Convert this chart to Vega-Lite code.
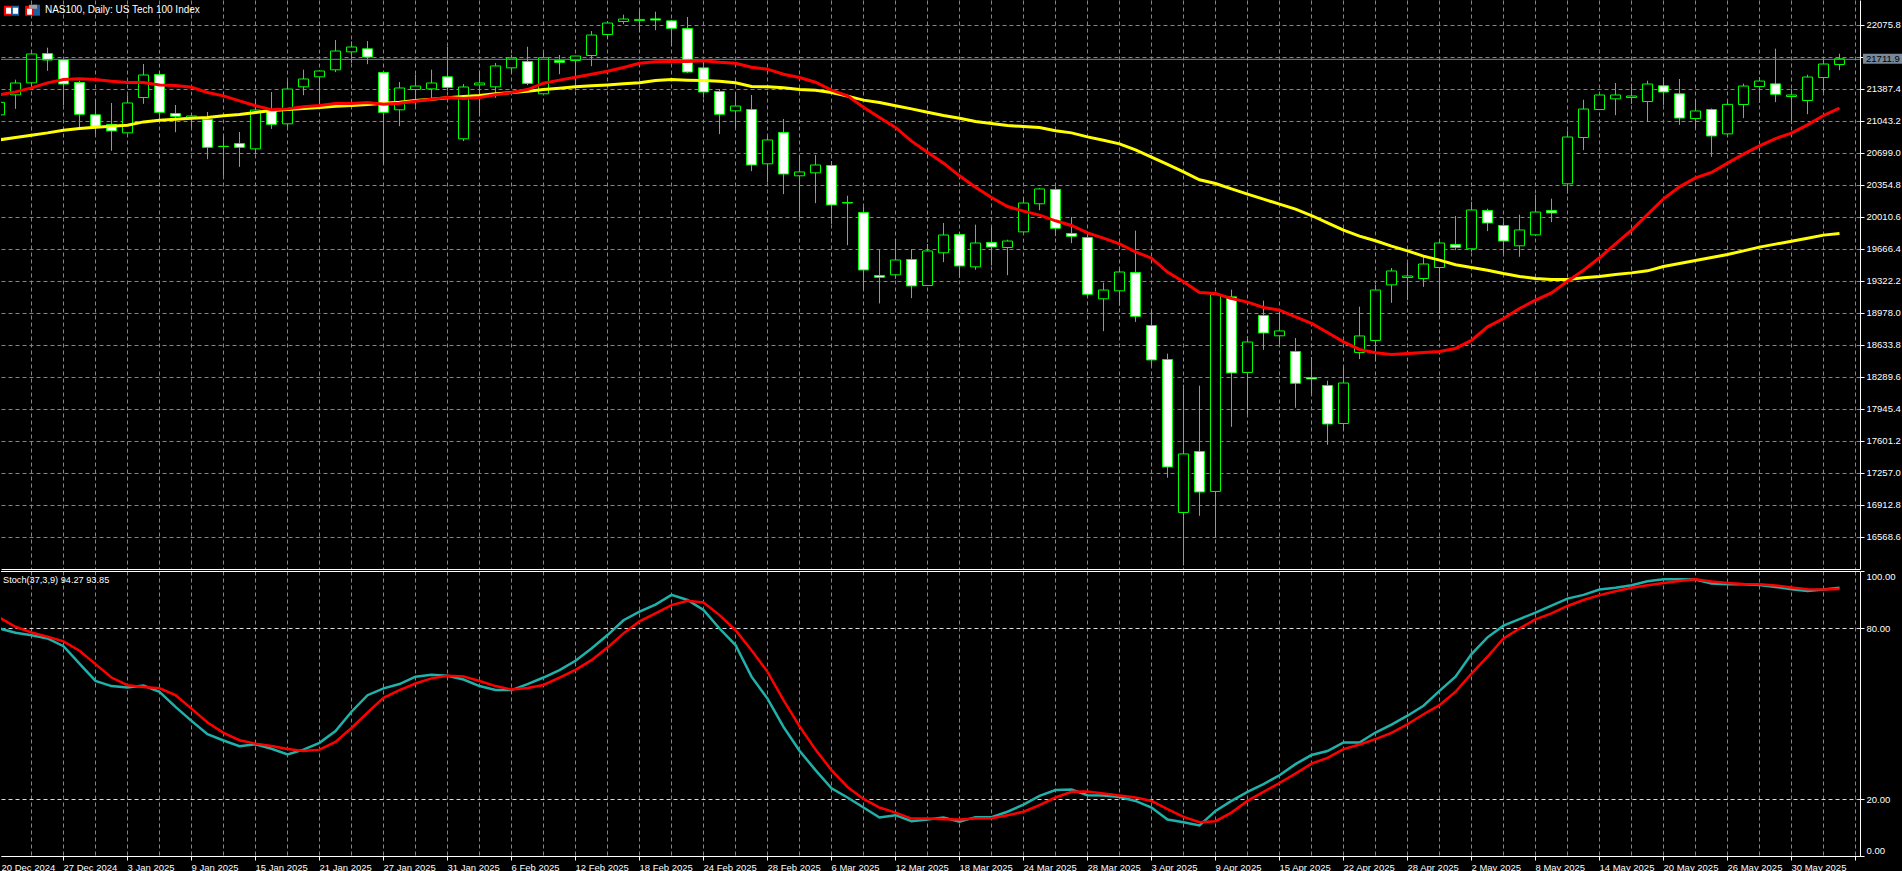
{
  "$schema": "https://vega.github.io/schema/vega-lite/v6.json",
  "background": "#000000",
  "padding": {"left": 0, "top": 0, "right": 0, "bottom": 1},
  "spacing": 1,
  "config": {
    "view": {"stroke": null},
    "font": "Liberation Sans",
    "axis": {
      "title": null,
      "tickCount": 200,
      "domainColor": "#ffffff",
      "tickColor": "#ffffff",
      "tickSize": 4,
      "labelColor": "#ffffff",
      "labelFont": "Liberation Sans",
      "labelFontSize": 9.5,
      "labelBound": false,
      "labelFlush": false
    }
  },
  "datasets": {
    "bars": [
      {"bar":-1,"open":21115,"high":21308,"low":21093,"close":21244,"ma_fast":21330,"ma_slow":20846,"stoch":80.0,"signal":83.8},
      {"bar":0,"open":21330,"high":21488,"low":21179,"close":21452,"ma_fast":21362,"ma_slow":20871,"stoch":78.5,"signal":80.6},
      {"bar":1,"open":21459,"high":21770,"low":21423,"close":21764,"ma_fast":21405,"ma_slow":20896,"stoch":77.6,"signal":78.6},
      {"bar":2,"open":21774,"high":21832,"low":21588,"close":21699,"ma_fast":21459,"ma_slow":20921,"stoch":76.5,"signal":77.1},
      {"bar":3,"open":21706,"high":21712,"low":21219,"close":21441,"ma_fast":21495,"ma_slow":20950,"stoch":73.8,"signal":75.5},
      {"bar":4,"open":21463,"high":21477,"low":20979,"close":21115,"ma_fast":21502,"ma_slow":20968,"stoch":67.7,"signal":72.2},
      {"bar":5,"open":21115,"high":21269,"low":20910,"close":20986,"ma_fast":21495,"ma_slow":20982,"stoch":61.6,"signal":67.5},
      {"bar":6,"open":21011,"high":21237,"low":20728,"close":20936,"ma_fast":21477,"ma_slow":20993,"stoch":59.8,"signal":62.8},
      {"bar":7,"open":20921,"high":21319,"low":20915,"close":21237,"ma_fast":21463,"ma_slow":21004,"stoch":59.3,"signal":60.1},
      {"bar":8,"open":21301,"high":21656,"low":21233,"close":21538,"ma_fast":21463,"ma_slow":21039,"stoch":60.0,"signal":59.5},
      {"bar":9,"open":21549,"high":21584,"low":21057,"close":21136,"ma_fast":21437,"ma_slow":21057,"stoch":57.8,"signal":59.0},
      {"bar":10,"open":21129,"high":21215,"low":20928,"close":21093,"ma_fast":21430,"ma_slow":21068,"stoch":52.5,"signal":56.6},
      {"bar":11,"open":21086,"high":21108,"low":20975,"close":21097,"ma_fast":21412,"ma_slow":21079,"stoch":47.6,"signal":51.9},
      {"bar":12,"open":21065,"high":21140,"low":20638,"close":20760,"ma_fast":21355,"ma_slow":21086,"stoch":42.9,"signal":47.0},
      {"bar":13,"open":20774,"high":20885,"low":20459,"close":20771,"ma_fast":21319,"ma_slow":21104,"stoch":40.7,"signal":43.4},
      {"bar":14,"open":20806,"high":20925,"low":20555,"close":20760,"ma_fast":21265,"ma_slow":21118,"stoch":38.7,"signal":40.8},
      {"bar":15,"open":20749,"high":21255,"low":20692,"close":21161,"ma_fast":21212,"ma_slow":21140,"stoch":39.4,"signal":39.6},
      {"bar":16,"open":21151,"high":21355,"low":20964,"close":21007,"ma_fast":21169,"ma_slow":21161,"stoch":37.8,"signal":38.8},
      {"bar":17,"open":21018,"high":21473,"low":20986,"close":21387,"ma_fast":21179,"ma_slow":21172,"stoch":35.8,"signal":37.7},
      {"bar":18,"open":21416,"high":21595,"low":21326,"close":21495,"ma_fast":21201,"ma_slow":21183,"stoch":37.5,"signal":37.0},
      {"bar":19,"open":21524,"high":21590,"low":21229,"close":21581,"ma_fast":21215,"ma_slow":21194,"stoch":39.9,"signal":37.5},
      {"bar":20,"open":21599,"high":21914,"low":21574,"close":21796,"ma_fast":21237,"ma_slow":21208,"stoch":44.0,"signal":40.2},
      {"bar":21,"open":21792,"high":21900,"low":21674,"close":21839,"ma_fast":21237,"ma_slow":21215,"stoch":50.8,"signal":45.1},
      {"bar":22,"open":21825,"high":21903,"low":21660,"close":21731,"ma_fast":21247,"ma_slow":21226,"stoch":56.6,"signal":50.5},
      {"bar":23,"open":21570,"high":21576,"low":20591,"close":21136,"ma_fast":21229,"ma_slow":21240,"stoch":59.0,"signal":55.7},
      {"bar":24,"open":21169,"high":21463,"low":20993,"close":21398,"ma_fast":21240,"ma_slow":21251,"stoch":60.5,"signal":58.4},
      {"bar":25,"open":21387,"high":21541,"low":21212,"close":21419,"ma_fast":21262,"ma_slow":21269,"stoch":63.1,"signal":60.7},
      {"bar":26,"open":21394,"high":21595,"low":21265,"close":21452,"ma_fast":21283,"ma_slow":21283,"stoch":63.8,"signal":62.5},
      {"bar":27,"open":21524,"high":21839,"low":21373,"close":21405,"ma_fast":21301,"ma_slow":21298,"stoch":63.4,"signal":63.4},
      {"bar":28,"open":20857,"high":21441,"low":20832,"close":21409,"ma_fast":21290,"ma_slow":21312,"stoch":62.1,"signal":63.2},
      {"bar":29,"open":21437,"high":21584,"low":21100,"close":21452,"ma_fast":21301,"ma_slow":21323,"stoch":59.8,"signal":61.6},
      {"bar":30,"open":21416,"high":21667,"low":21298,"close":21635,"ma_fast":21330,"ma_slow":21341,"stoch":58.4,"signal":59.8},
      {"bar":31,"open":21620,"high":21756,"low":21556,"close":21721,"ma_fast":21355,"ma_slow":21355,"stoch":58.4,"signal":58.6},
      {"bar":32,"open":21688,"high":21842,"low":21434,"close":21448,"ma_fast":21387,"ma_slow":21369,"stoch":60.5,"signal":59.1},
      {"bar":33,"open":21341,"high":21774,"low":21335,"close":21724,"ma_fast":21455,"ma_slow":21387,"stoch":62.8,"signal":60.2},
      {"bar":34,"open":21699,"high":21753,"low":21552,"close":21674,"ma_fast":21488,"ma_slow":21402,"stoch":65.4,"signal":62.8},
      {"bar":35,"open":21699,"high":21746,"low":21376,"close":21742,"ma_fast":21520,"ma_slow":21416,"stoch":68.7,"signal":65.5},
      {"bar":36,"open":21753,"high":22011,"low":21638,"close":21968,"ma_fast":21552,"ma_slow":21427,"stoch":73.0,"signal":68.9},
      {"bar":37,"open":21979,"high":22119,"low":21932,"close":22097,"ma_fast":21584,"ma_slow":21437,"stoch":77.7,"signal":73.3},
      {"bar":38,"open":22119,"high":22187,"low":22090,"close":22140,"ma_fast":21624,"ma_slow":21448,"stoch":82.9,"signal":78.3},
      {"bar":39,"open":22129,"high":22226,"low":22004,"close":22136,"ma_fast":21670,"ma_slow":21459,"stoch":85.9,"signal":82.5},
      {"bar":40,"open":22147,"high":22219,"low":22025,"close":22129,"ma_fast":21685,"ma_slow":21484,"stoch":88.4,"signal":85.3},
      {"bar":41,"open":22126,"high":22130,"low":21853,"close":22040,"ma_fast":21688,"ma_slow":21495,"stoch":91.8,"signal":88.2},
      {"bar":42,"open":22043,"high":22162,"low":21565,"close":21570,"ma_fast":21688,"ma_slow":21488,"stoch":90.0,"signal":89.7},
      {"bar":43,"open":21620,"high":21681,"low":21298,"close":21355,"ma_fast":21696,"ma_slow":21484,"stoch":86.5,"signal":89.1},
      {"bar":44,"open":21366,"high":21387,"low":20907,"close":21115,"ma_fast":21681,"ma_slow":21477,"stoch":80.0,"signal":84.7},
      {"bar":45,"open":21158,"high":21348,"low":20971,"close":21204,"ma_fast":21670,"ma_slow":21459,"stoch":74.2,"signal":79.4},
      {"bar":46,"open":21172,"high":21323,"low":20509,"close":20570,"ma_fast":21627,"ma_slow":21419,"stoch":63.1,"signal":72.4},
      {"bar":47,"open":20588,"high":20885,"low":20391,"close":20839,"ma_fast":21606,"ma_slow":21416,"stoch":55.4,"signal":64.8},
      {"bar":48,"open":20925,"high":21065,"low":20262,"close":20473,"ma_fast":21552,"ma_slow":21405,"stoch":45.5,"signal":54.9},
      {"bar":49,"open":20459,"high":20677,"low":20011,"close":20495,"ma_fast":21516,"ma_slow":21387,"stoch":37.1,"signal":45.7},
      {"bar":50,"open":20491,"high":20677,"low":20165,"close":20570,"ma_fast":21466,"ma_slow":21380,"stoch":30.3,"signal":37.5},
      {"bar":51,"open":20570,"high":20613,"low":19942,"close":20140,"ma_fast":21380,"ma_slow":21355,"stoch":23.9,"signal":30.3},
      {"bar":52,"open":20172,"high":20240,"low":19713,"close":20161,"ma_fast":21319,"ma_slow":21316,"stoch":20.7,"signal":24.4},
      {"bar":53,"open":20064,"high":20118,"low":19229,"close":19441,"ma_fast":21197,"ma_slow":21273,"stoch":17.2,"signal":20.2},
      {"bar":54,"open":19387,"high":19659,"low":19086,"close":19362,"ma_fast":21086,"ma_slow":21247,"stoch":13.7,"signal":17.2},
      {"bar":55,"open":19394,"high":19774,"low":19351,"close":19548,"ma_fast":20979,"ma_slow":21212,"stoch":14.5,"signal":15.4},
      {"bar":56,"open":19559,"high":19666,"low":19143,"close":19269,"ma_fast":20832,"ma_slow":21179,"stoch":12.4,"signal":13.3},
      {"bar":57,"open":19279,"high":19720,"low":19273,"close":19645,"ma_fast":20713,"ma_slow":21143,"stoch":13.0,"signal":13.3},
      {"bar":58,"open":19631,"high":19946,"low":19530,"close":19817,"ma_fast":20595,"ma_slow":21108,"stoch":13.7,"signal":13.1},
      {"bar":59,"open":19828,"high":19849,"low":19362,"close":19484,"ma_fast":20459,"ma_slow":21079,"stoch":12.2,"signal":13.0},
      {"bar":60,"open":19480,"high":19928,"low":19448,"close":19731,"ma_fast":20337,"ma_slow":21043,"stoch":13.8,"signal":13.3},
      {"bar":61,"open":19742,"high":19899,"low":19494,"close":19688,"ma_fast":20226,"ma_slow":21022,"stoch":13.8,"signal":13.4},
      {"bar":62,"open":19688,"high":19767,"low":19390,"close":19752,"ma_fast":20129,"ma_slow":21000,"stoch":15.7,"signal":14.5},
      {"bar":63,"open":19856,"high":20226,"low":19850,"close":20161,"ma_fast":20079,"ma_slow":20989,"stoch":18.2,"signal":15.7},
      {"bar":64,"open":20158,"high":20322,"low":20089,"close":20312,"ma_fast":20036,"ma_slow":20979,"stoch":21.3,"signal":18.0},
      {"bar":65,"open":20312,"high":20340,"low":19810,"close":19889,"ma_fast":19975,"ma_slow":20943,"stoch":23.3,"signal":20.7},
      {"bar":66,"open":19839,"high":20011,"low":19735,"close":19803,"ma_fast":19925,"ma_slow":20921,"stoch":23.5,"signal":22.7},
      {"bar":67,"open":19795,"high":19821,"low":19164,"close":19179,"ma_fast":19846,"ma_slow":20878,"stoch":21.5,"signal":22.8},
      {"bar":68,"open":19136,"high":19304,"low":18788,"close":19225,"ma_fast":19788,"ma_slow":20842,"stoch":21.4,"signal":22.1},
      {"bar":69,"open":19222,"high":19462,"low":19061,"close":19419,"ma_fast":19727,"ma_slow":20803,"stoch":20.9,"signal":21.4},
      {"bar":70,"open":19419,"high":19864,"low":18888,"close":18942,"ma_fast":19641,"ma_slow":20738,"stoch":19.5,"signal":20.7},
      {"bar":71,"open":18849,"high":18999,"low":18412,"close":18473,"ma_fast":19573,"ma_slow":20659,"stoch":17.2,"signal":19.5},
      {"bar":72,"open":18483,"high":18541,"low":17211,"close":17322,"ma_fast":19423,"ma_slow":20581,"stoch":13.0,"signal":16.6},
      {"bar":73,"open":16838,"high":18207,"low":16268,"close":17462,"ma_fast":19319,"ma_slow":20502,"stoch":12.0,"signal":13.9},
      {"bar":74,"open":17494,"high":18197,"low":16802,"close":17053,"ma_fast":19204,"ma_slow":20416,"stoch":10.9,"signal":12.0},
      {"bar":75,"open":17064,"high":19200,"low":16569,"close":19175,"ma_fast":19193,"ma_slow":20376,"stoch":16.0,"signal":12.4},
      {"bar":76,"open":19157,"high":19229,"low":17759,"close":18333,"ma_fast":19139,"ma_slow":20319,"stoch":19.5,"signal":15.4},
      {"bar":77,"open":18344,"high":18727,"low":17895,"close":18666,"ma_fast":19100,"ma_slow":20262,"stoch":22.7,"signal":19.5},
      {"bar":78,"open":18957,"high":19111,"low":18587,"close":18763,"ma_fast":19043,"ma_slow":20208,"stoch":25.4,"signal":22.7},
      {"bar":79,"open":18738,"high":18996,"low":18648,"close":18785,"ma_fast":19014,"ma_slow":20154,"stoch":28.5,"signal":25.8},
      {"bar":80,"open":18569,"high":18709,"low":17964,"close":18222,"ma_fast":18942,"ma_slow":20100,"stoch":32.4,"signal":29.1},
      {"bar":81,"open":18290,"high":18505,"low":18110,"close":18268,"ma_fast":18871,"ma_slow":20032,"stoch":35.6,"signal":32.6},
      {"bar":82,"open":18204,"high":18250,"low":17566,"close":17784,"ma_fast":18774,"ma_slow":19953,"stoch":37.0,"signal":34.6},
      {"bar":83,"open":17795,"high":18397,"low":17723,"close":18225,"ma_fast":18673,"ma_slow":19874,"stoch":40.0,"signal":37.7},
      {"bar":84,"open":18559,"high":19046,"low":18487,"close":18731,"ma_fast":18591,"ma_slow":19810,"stoch":40.0,"signal":39.3},
      {"bar":85,"open":18688,"high":19279,"low":18462,"close":19225,"ma_fast":18555,"ma_slow":19760,"stoch":43.5,"signal":41.2},
      {"bar":86,"open":19286,"high":19462,"low":19093,"close":19430,"ma_fast":18537,"ma_slow":19702,"stoch":46.3,"signal":43.4},
      {"bar":87,"open":19365,"high":19516,"low":19121,"close":19376,"ma_fast":18548,"ma_slow":19652,"stoch":49.4,"signal":46.4},
      {"bar":88,"open":19354,"high":19588,"low":19265,"close":19505,"ma_fast":18559,"ma_slow":19595,"stoch":52.9,"signal":49.9},
      {"bar":89,"open":19473,"high":19774,"low":18978,"close":19731,"ma_fast":18569,"ma_slow":19552,"stoch":58.1,"signal":53.1},
      {"bar":90,"open":19720,"high":20021,"low":19659,"close":19684,"ma_fast":18602,"ma_slow":19502,"stoch":63.1,"signal":57.8},
      {"bar":91,"open":19674,"high":20175,"low":19641,"close":20086,"ma_fast":18688,"ma_slow":19473,"stoch":71.0,"signal":64.2},
      {"bar":92,"open":20086,"high":20100,"low":19864,"close":19946,"ma_fast":18835,"ma_slow":19444,"stoch":76.9,"signal":70.1},
      {"bar":93,"open":19925,"high":19964,"low":19623,"close":19752,"ma_fast":18924,"ma_slow":19408,"stoch":81.0,"signal":76.5},
      {"bar":94,"open":19706,"high":20036,"low":19588,"close":19871,"ma_fast":19032,"ma_slow":19376,"stoch":83.3,"signal":80.0},
      {"bar":95,"open":19824,"high":20251,"low":19810,"close":20064,"ma_fast":19122,"ma_slow":19355,"stoch":85.6,"signal":83.2},
      {"bar":96,"open":20086,"high":20208,"low":19960,"close":20054,"ma_fast":19200,"ma_slow":19344,"stoch":88.0,"signal":85.3},
      {"bar":97,"open":20373,"high":20939,"low":20269,"close":20871,"ma_fast":19326,"ma_slow":19344,"stoch":90.5,"signal":87.9},
      {"bar":98,"open":20871,"high":21272,"low":20735,"close":21172,"ma_fast":19444,"ma_slow":19362,"stoch":91.8,"signal":90.0},
      {"bar":99,"open":21172,"high":21330,"low":21165,"close":21323,"ma_fast":19577,"ma_slow":19376,"stoch":93.7,"signal":91.7},
      {"bar":100,"open":21287,"high":21452,"low":21111,"close":21323,"ma_fast":19727,"ma_slow":19398,"stoch":94.3,"signal":93.1},
      {"bar":101,"open":21301,"high":21445,"low":21233,"close":21312,"ma_fast":19874,"ma_slow":19415,"stoch":95.2,"signal":94.3},
      {"bar":102,"open":21258,"high":21477,"low":21039,"close":21441,"ma_fast":20043,"ma_slow":19437,"stoch":96.6,"signal":95.2},
      {"bar":103,"open":21427,"high":21513,"low":21222,"close":21355,"ma_fast":20211,"ma_slow":19484,"stoch":97.3,"signal":96.0},
      {"bar":104,"open":21341,"high":21495,"low":21007,"close":21075,"ma_fast":20340,"ma_slow":19516,"stoch":97.3,"signal":96.7},
      {"bar":105,"open":21075,"high":21272,"low":20971,"close":21151,"ma_fast":20437,"ma_slow":19548,"stoch":97.2,"signal":97.3},
      {"bar":106,"open":21172,"high":21178,"low":20663,"close":20882,"ma_fast":20495,"ma_slow":19580,"stoch":95.8,"signal":96.5},
      {"bar":107,"open":20910,"high":21255,"low":20905,"close":21222,"ma_fast":20595,"ma_slow":19613,"stoch":95.5,"signal":96.0},
      {"bar":108,"open":21226,"high":21445,"low":21079,"close":21419,"ma_fast":20692,"ma_slow":19652,"stoch":95.5,"signal":95.6},
      {"bar":109,"open":21419,"high":21516,"low":21244,"close":21473,"ma_fast":20781,"ma_slow":19692,"stoch":95.3,"signal":95.5},
      {"bar":110,"open":21448,"high":21821,"low":21251,"close":21330,"ma_fast":20860,"ma_slow":19724,"stoch":94.6,"signal":95.1},
      {"bar":111,"open":21312,"high":21387,"low":21014,"close":21323,"ma_fast":20918,"ma_slow":19756,"stoch":93.8,"signal":94.4},
      {"bar":112,"open":21269,"high":21541,"low":21122,"close":21516,"ma_fast":21007,"ma_slow":19788,"stoch":93.2,"signal":93.8},
      {"bar":113,"open":21516,"high":21731,"low":21359,"close":21656,"ma_fast":21108,"ma_slow":19821,"stoch":93.7,"signal":93.7},
      {"bar":114,"open":21656,"high":21767,"low":21595,"close":21712,"ma_fast":21186,"ma_slow":19839,"stoch":94.27,"signal":93.85}
    ],
    "icons": [
      {"part":"red","x1":-0.69,"x2":-0.19,"y1":22283,"y2":22176},
      {"part":"blue","x1":-0.19,"x2":0.25,"y1":22283,"y2":22176},
      {"part":"white","x1":-0.56,"x2":-0.25,"y1":22262,"y2":22197},
      {"part":"white","x1":-0.13,"x2":0.19,"y1":22262,"y2":22197},
      {"part":"red","x1":0.63,"x2":1.13,"y1":22283,"y2":22176},
      {"part":"blue","x1":1.13,"x2":1.56,"y1":22294,"y2":22176},
      {"part":"white","x1":0.75,"x2":1.06,"y1":22251,"y2":22187},
      {"part":"gray","x1":0.88,"x2":1.38,"y1":22294,"y2":22251}
    ]
  },
  "vconcat": [
    {
      "width": 1859,
      "height": 569,
      "layer": [
        {
          "data": {"name": "bars"},
          "mark": {"type": "rule", "color": "#00ff00", "strokeWidth": 1, "clip": true, "xOffset": 0.5, "yOffset": 0.5},
          "encoding": {
            "x": {
              "field": "bar",
              "type": "quantitative",
              "scale": {"domain": [-0.875, 115.3125], "nice": false, "zero": false, "padding": 0},
              "axis": {
                "values": [1,3,5,7,9,11,13,15,17,19,21,23,25,27,29,31,33,35,37,39,41,43,45,47,49,51,53,55,57,59,61,63,65,67,69,71,73,75,77,79,81,83,85,87,89,91,93,95,97,99,101,103,105,107,109,111,113,115],
                "grid": true,
                "gridColor": "#778899",
                "gridDash": [4, 3],
                "labels": false,
                "ticks": false
              }
            },
            "y": {
              "field": "low",
              "type": "quantitative",
              "scale": {"domain": [16224.4, 22344.7], "nice": false, "zero": false},
              "axis": {
                "orient": "right",
                "values": [22075.8,21731.6,21387.4,21043.2,20699.0,20354.8,20010.6,19666.4,19322.2,18978.0,18633.8,18289.6,17945.4,17601.2,17257.0,16912.8,16568.6],
                "labelExpr": "datum.value == 21731.6 ? '' : format(datum.value, '.1f')",
                "labelOverlap": false,
                "grid": true,
                "gridColor": "#778899",
                "gridDash": [4, 3]
              }
            },
            "y2": {"field": "high"}
          }
        },
        {
          "data": {"name": "bars"},
          "mark": {"type": "bar", "orient": "vertical", "size": 10, "stroke": "#00ff00", "strokeWidth": 1, "clip": true, "xOffset": 0.5, "yOffset": 0.5},
          "encoding": {
            "x": {"field": "bar", "type": "quantitative"},
            "y": {"field": "open", "type": "quantitative"},
            "y2": {"field": "close"},
            "fill": {"condition": {"test": "datum.close < datum.open", "value": "#ffffff"}, "value": "#000000"}
          }
        },
        {
          "data": {"values": [{"price": 21711.9}]},
          "mark": {"type": "rule", "color": "#778899", "strokeWidth": 1, "yOffset": 0.5},
          "encoding": {"y": {"field": "price", "type": "quantitative"}}
        },
        {
          "data": {"name": "bars"},
          "mark": {"type": "line", "color": "#ffff00", "strokeWidth": 3, "clip": true, "xOffset": 0.5, "yOffset": 0.5},
          "encoding": {
            "x": {"field": "bar", "type": "quantitative"},
            "y": {"field": "ma_slow", "type": "quantitative"}
          }
        },
        {
          "data": {"name": "bars"},
          "mark": {"type": "line", "color": "#ff0000", "strokeWidth": 3, "clip": true, "xOffset": 0.5, "yOffset": 0.5},
          "encoding": {
            "x": {"field": "bar", "type": "quantitative"},
            "y": {"field": "ma_fast", "type": "quantitative"}
          }
        },
        {
          "data": {"values": [{"x1": 115.5, "x2": 118, "y1": 21766, "y2": 21658}]},
          "mark": {"type": "rect", "color": "#778899"},
          "encoding": {
            "x": {"field": "x1", "type": "quantitative"},
            "x2": {"field": "x2"},
            "y": {"field": "y1", "type": "quantitative"},
            "y2": {"field": "y2"}
          }
        },
        {
          "data": {"values": [{"x": 115.69, "price": 21711.9, "label": "21711.9"}]},
          "mark": {"type": "text", "align": "left", "baseline": "middle", "color": "#000000", "fontSize": 9.5},
          "encoding": {
            "x": {"field": "x", "type": "quantitative"},
            "y": {"field": "price", "type": "quantitative"},
            "text": {"field": "label"}
          }
        },
        {
          "data": {"name": "icons"},
          "mark": {"type": "rect"},
          "encoding": {
            "x": {"field": "x1", "type": "quantitative"},
            "x2": {"field": "x2"},
            "y": {"field": "y1", "type": "quantitative"},
            "y2": {"field": "y2"},
            "color": {
              "field": "part",
              "type": "nominal",
              "legend": null,
              "scale": {"domain": ["red", "blue", "white", "gray"], "range": ["#ff0000", "#1f5f9f", "#ffffff", "#9aa0a6"]}
            }
          }
        },
        {
          "data": {"values": [{"x": 1.87, "price": 22233, "label": "NAS100, Daily:  US Tech 100 Index"}]},
          "mark": {"type": "text", "align": "left", "baseline": "middle", "color": "#ffffff", "fontSize": 10},
          "encoding": {
            "x": {"field": "x", "type": "quantitative"},
            "y": {"field": "price", "type": "quantitative"},
            "text": {"field": "label"}
          }
        }
      ]
    },
    {
      "width": 1859,
      "height": 285,
      "layer": [
        {
          "data": {"name": "bars"},
          "mark": {"type": "line", "color": "#20b2aa", "strokeWidth": 2.5, "clip": true, "xOffset": 0.5, "yOffset": 0.5},
          "encoding": {
            "x": {
              "field": "bar",
              "type": "quantitative",
              "scale": {"domain": [-0.875, 115.3125], "nice": false, "zero": false},
              "axis": {
                "values": [-0.875,1,3,5,7,9,11,13,15,17,19,21,23,25,27,29,31,33,35,37,39,41,43,45,47,49,51,53,55,57,59,61,63,65,67,69,71,73,75,77,79,81,83,85,87,89,91,93,95,97,99,101,103,105,107,109,111,113,115],
                "grid": true,
                "gridColor": "#778899",
                "gridDash": [4, 3],
                "gridOpacity": {"condition": {"test": "datum.value < 0", "value": 0}, "value": 1},
                "labelAlign": "left",
                "labelPadding": 2,
                "labelOverlap": false,
                "tickOpacity": {"condition": {"test": "(datum.value + 1) % 4 == 0", "value": 1}, "value": 0},
                "labelExpr": "datum.value < 0 ? '20 Dec 2024' : (datum.value + 1) % 4 == 0 ? ['20 Dec 2024','27 Dec 2024','3 Jan 2025','9 Jan 2025','15 Jan 2025','21 Jan 2025','27 Jan 2025','31 Jan 2025','6 Feb 2025','12 Feb 2025','18 Feb 2025','24 Feb 2025','28 Feb 2025','6 Mar 2025','12 Mar 2025','18 Mar 2025','24 Mar 2025','28 Mar 2025','3 Apr 2025','9 Apr 2025','15 Apr 2025','22 Apr 2025','28 Apr 2025','2 May 2025','8 May 2025','14 May 2025','20 May 2025','26 May 2025','30 May 2025'][(datum.value + 1) / 4] : ''"
              }
            },
            "y": {
              "field": "stoch",
              "type": "quantitative",
              "scale": {"domain": [0, 100], "nice": false},
              "axis": {
                "orient": "right",
                "values": [0, 20, 80, 100],
                "format": ".2f",
                "labelOverlap": false,
                "grid": true,
                "gridColor": "#dcdcdc",
                "gridDash": [4, 3],
                "labelOffset": {"condition": [{"test": "datum.value == 100", "value": 5}, {"test": "datum.value == 0", "value": -5.5}], "value": 0}
              }
            }
          }
        },
        {
          "data": {"name": "bars"},
          "mark": {"type": "line", "color": "#ff0000", "strokeWidth": 2.5, "clip": true, "xOffset": 0.5, "yOffset": 0.5},
          "encoding": {
            "x": {"field": "bar", "type": "quantitative"},
            "y": {"field": "signal", "type": "quantitative"}
          }
        },
        {
          "data": {"values": [{"level": 100}]},
          "mark": {"type": "rule", "color": "#ffffff", "strokeWidth": 1, "yOffset": 0.5},
          "encoding": {"y": {"field": "level", "type": "quantitative"}}
        },
        {
          "data": {"values": [{"x": -0.75, "level": 96.7, "label": "Stoch(37,3,9) 94.27 93.85"}]},
          "mark": {"type": "text", "align": "left", "baseline": "middle", "color": "#ffffff", "fontSize": 9.2},
          "encoding": {
            "x": {"field": "x", "type": "quantitative"},
            "y": {"field": "level", "type": "quantitative"},
            "text": {"field": "label"}
          }
        }
      ]
    }
  ]
}
